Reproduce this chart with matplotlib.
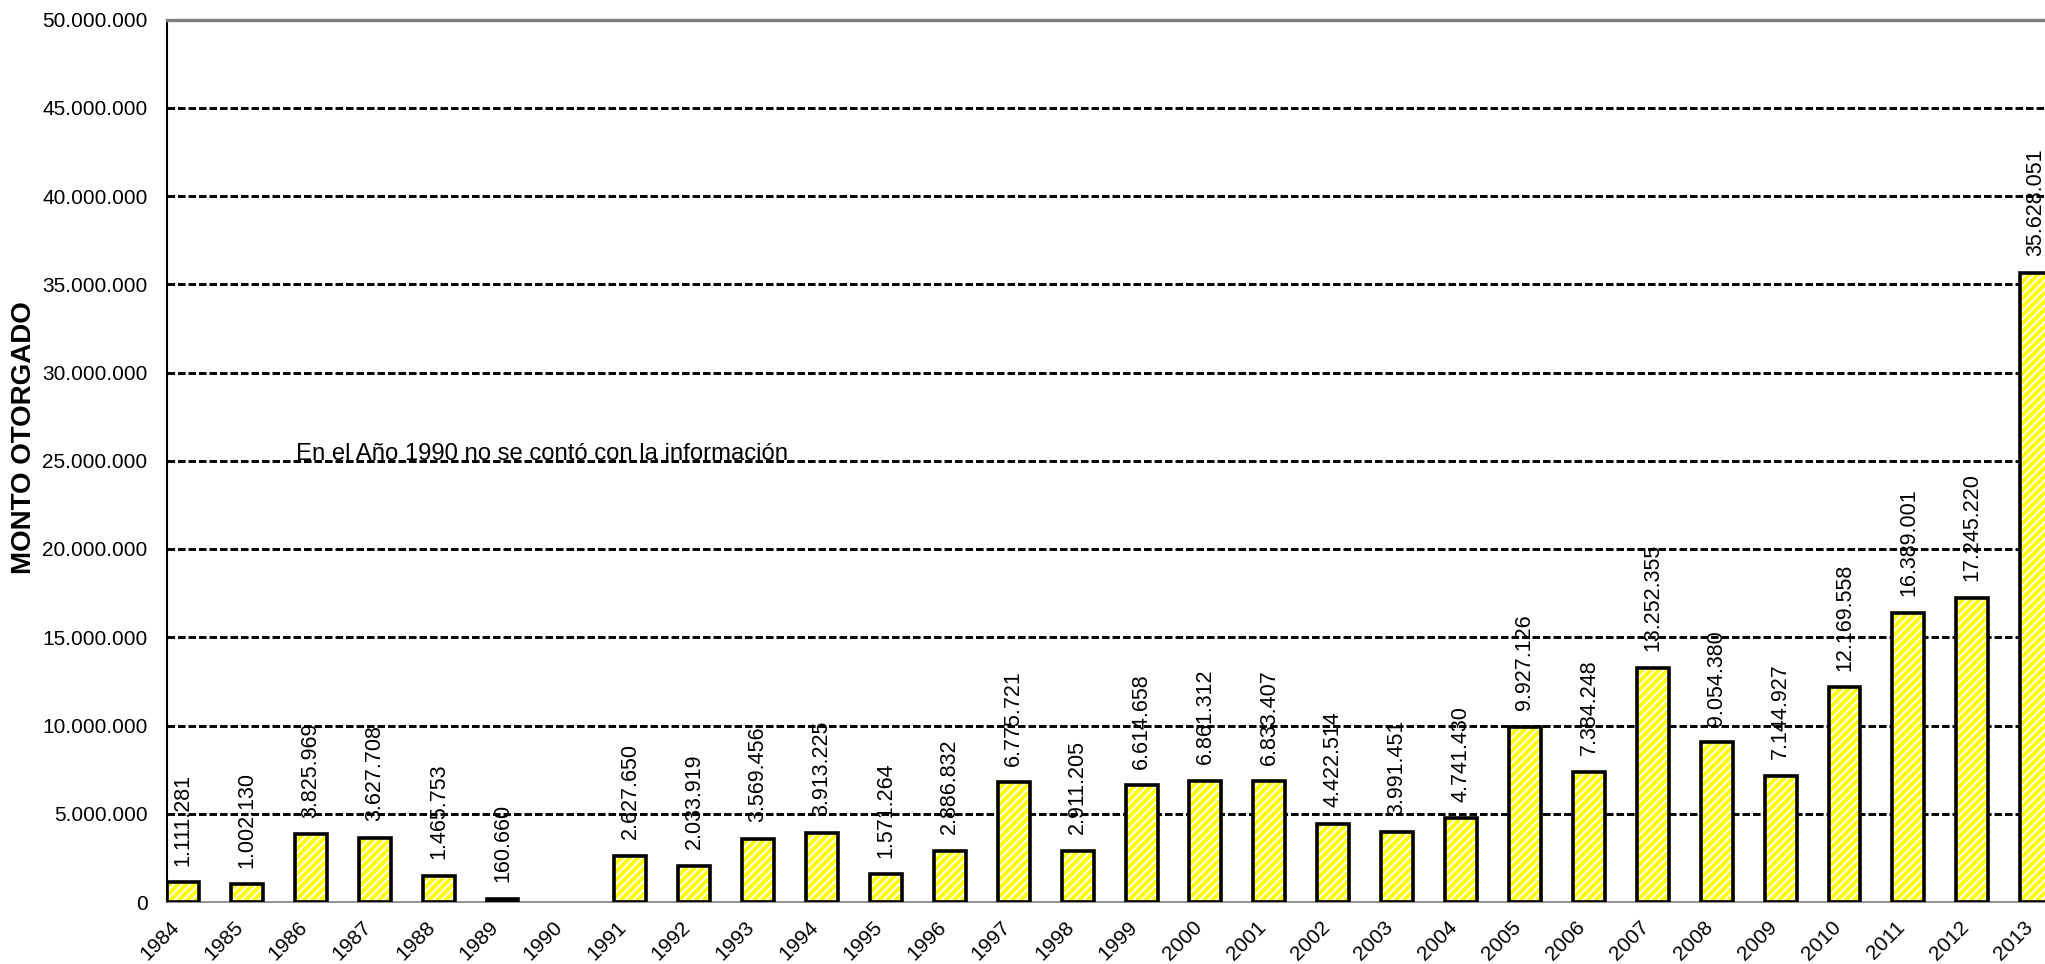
import matplotlib
matplotlib.use("Agg")
import matplotlib.pyplot as plt
import numpy as np
from matplotlib.ticker import FuncFormatter

years = ["1984", "1985", "1986", "1987", "1988", "1989", "1990", "1991", "1992",
         "1993", "1994", "1995", "1996", "1997", "1998", "1999", "2000", "2001",
         "2002", "2003", "2004", "2005", "2006", "2007", "2008", "2009", "2010",
         "2011", "2012", "2013"]
montos = [1111281, 1002130, 3825969, 3627708, 1465753, 160660, None, 2627650,
          2033919, 3569456, 3913225, 1571264, 2886832, 6775721, 2911205, 6614658,
          6861312, 6833407, 4422514, 3991451, 4741430, 9927126, 7384248, 13252355,
          9054380, 7144927, 12169558, 16389001, 17245220, 35628051]
yticks = list(range(0, 50000001, 5000000))
nota = "En el Año 1990 no se contó con la información"
ylabel = "MONTO OTORGADO"

plt.rcParams['font.family'] = ['Liberation Sans', 'DejaVu Sans']
plt.rcParams['hatch.linewidth'] = 1.4


def fmt_miles(v):
    return f"{int(round(v)):,}".replace(",", ".")


fig = plt.figure(figsize=(20.45, 9.64), dpi=100)
ax = fig.add_axes([167 / 2045, 62 / 964, 1 - 167 / 2045, (944.5 - 62) / 964])

x = np.arange(len(years))
vals = np.array([np.nan if v is None else v for v in montos], dtype=float)
mask = ~np.isnan(vals)

# hatched fill
ax.bar(x[mask], vals[mask], width=0.5, color="#ffff00", edgecolor="white",
       hatch="////", linewidth=0, zorder=3)
# outlines
ax.bar(x[mask], vals[mask], width=0.5, fill=False, edgecolor="black",
       linewidth=2.6, zorder=4)

for xi, v in zip(x[mask], vals[mask]):
    ax.annotate(fmt_miles(v), (xi, v), xytext=(0, 12), textcoords="offset points",
                rotation=90, ha="center", va="bottom", fontsize=15.5, zorder=5)

# grid lines
for t in yticks[1:-1]:
    ax.axhline(t, color="black", linewidth=2.1, linestyle=(0, (2.6, 1.0)), zorder=2)

ax.set_ylim(0, 50000000)
ax.set_xlim(-0.25, (2045 - 184) / 63.87)
ax.set_yticks(yticks)
ax.yaxis.set_major_formatter(FuncFormatter(lambda v, p: fmt_miles(v)))
ax.set_xticks(x)
ax.set_xticklabels(years, rotation=45, ha="right", va="top", fontsize=15)
ax.tick_params(axis="y", length=0, pad=14, labelsize=15)
ax.tick_params(axis="x", length=0, pad=11)

ax.spines["right"].set_visible(False)
ax.spines["top"].set_color("#7f7f7f")
ax.spines["top"].set_linewidth(2.4)
ax.spines["bottom"].set_color("#808080")
ax.spines["bottom"].set_linewidth(1.2)
ax.spines["left"].set_color("black")
ax.spines["left"].set_linewidth(1.5)

ax.set_ylabel(ylabel, fontsize=20, fontweight="bold")
ax.yaxis.set_label_coords(-0.0692, 0.526)

ax.text(1.77, 25050000, nota, fontsize=17.2, ha="left", va="baseline", zorder=6)

fig.savefig("out.png", dpi=100)
